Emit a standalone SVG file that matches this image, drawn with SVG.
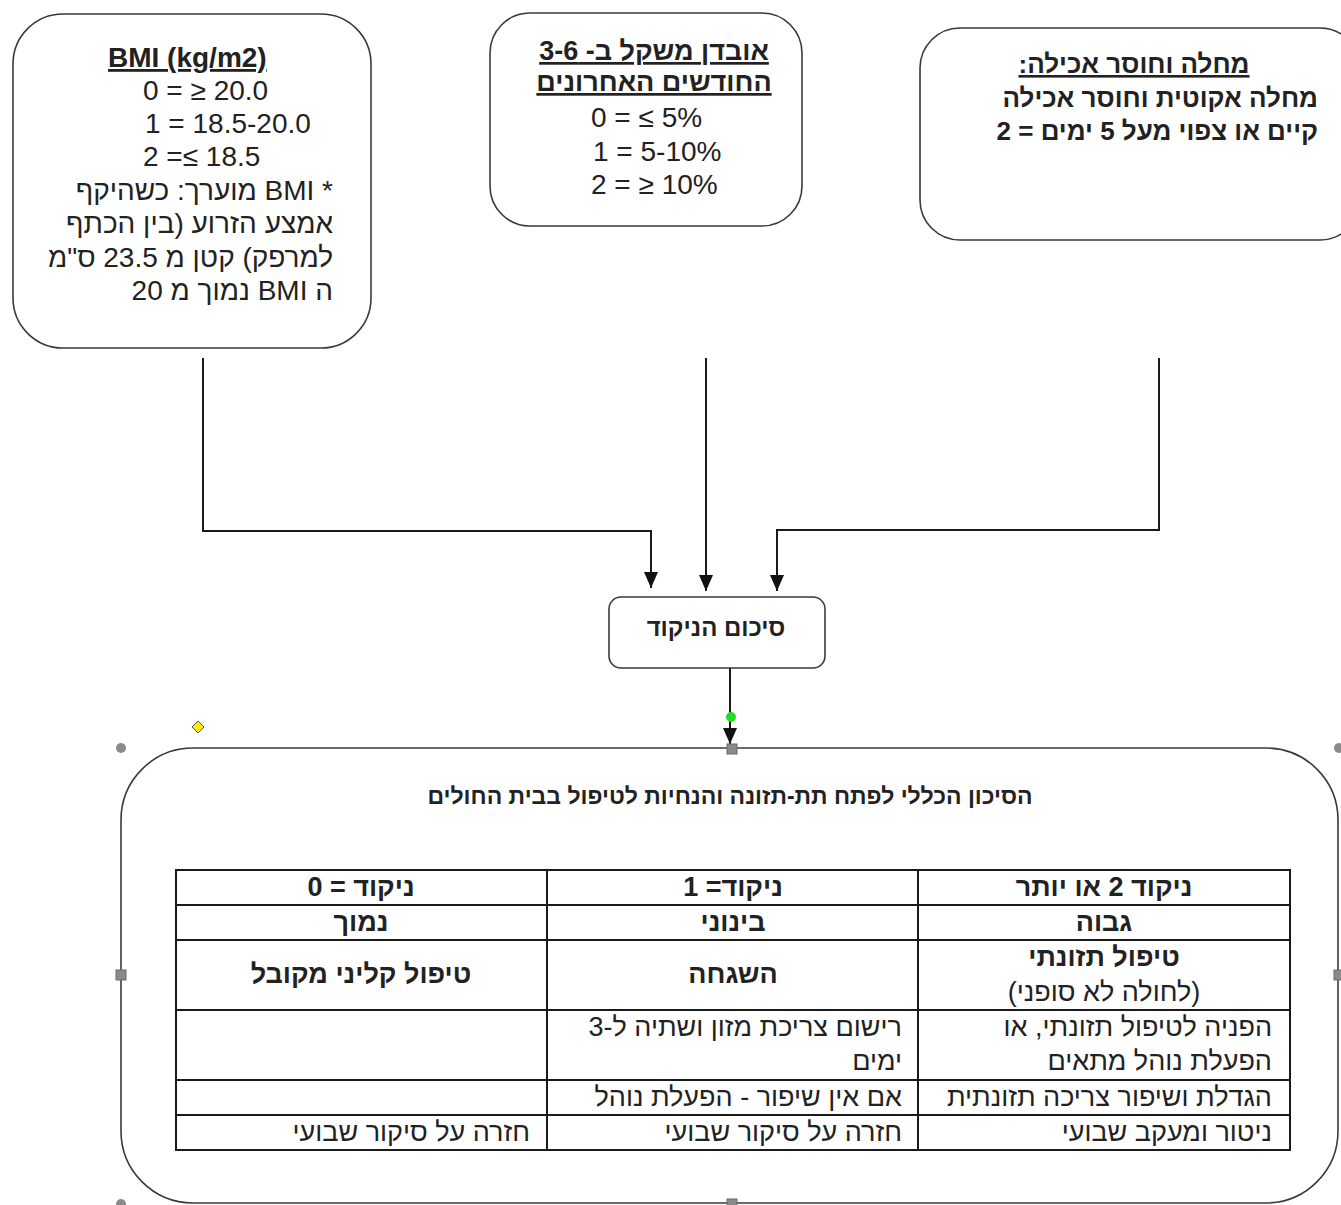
<svg xmlns="http://www.w3.org/2000/svg" width="1341" height="1205" viewBox="0 0 1341 1205">
<style>
  .box { fill: #ffffff; stroke: #3a3a3a; stroke-width: 1.6; }
  .t { font-family: "Liberation Sans", Arial, "DejaVu Sans", sans-serif; fill: #222; }
  .b { font-weight: bold; }
  .u { text-decoration: underline; }
  .rtl { direction: rtl; unicode-bidi: embed; }
  .mid { text-anchor: middle; }
  .f28 { font-size: 28px; }
  .f27 { font-size: 27px; }
  .f26 { font-size: 26px; }
  .f24 { font-size: 24px; }
  .f23 { font-size: 23px; }
  .conn { fill: none; stroke: #1a1a1a; stroke-width: 2; }
  .grid { fill: none; stroke: #1a1a1a; stroke-width: 2; }
  .h-sq { fill: #8a8a8a; stroke: #6a6a6a; stroke-width: 1; }
  .h-ci { fill: #8a8a8a; }
</style>
<defs>
  <marker id="arrow" viewBox="0 0 16 14" refX="16" refY="7" markerWidth="16" markerHeight="14" orient="auto" markerUnits="userSpaceOnUse">
    <path d="M0,0 L16,7 L0,14 Z" fill="#111"/>
  </marker>
</defs>

<g id="node-bmi">
  <rect class="box" x="13" y="14" width="358" height="334" rx="50" ry="50"/>
  <text class="t b u f28" x="108" y="67">BMI (kg/m2)</text>
  <text class="t f28" x="143" y="100">0 = ≥ 20.0</text>
  <text class="t f28" x="145" y="133">1 = 18.5-20.0</text>
  <text class="t f28" x="143" y="166">2 =≤ 18.5</text>
  <text class="t f28 rtl" x="333" y="200" text-anchor="start">* BMI מוערך: כשהיקף</text>
  <text class="t f28 rtl" x="333" y="233" text-anchor="start">אמצע הזרוע (בין הכתף</text>
  <text class="t f28 rtl" x="333" y="267" text-anchor="start">למרפק) קטן מ 23.5 ס"מ</text>
  <text class="t f28 rtl" x="333" y="300" text-anchor="start">ה BMI נמוך מ 20</text>
</g>

<g id="node-weightloss">
  <rect class="box" x="490" y="13" width="312" height="213" rx="40" ry="40"/>
  <text class="t b u f27 rtl mid" x="654" y="60">אובדן משקל ב- 3-6</text>
  <text class="t b u f27 rtl mid" x="654" y="91">החודשים האחרונים</text>
  <text class="t f28" x="591" y="127">0 = ≤ 5%</text>
  <text class="t f28" x="593" y="161">1 = 5-10%</text>
  <text class="t f28" x="591" y="194">2 = ≥ 10%</text>
</g>

<g id="node-illness">
  <rect class="box" x="920" y="28" width="440" height="212" rx="40" ry="40"/>
  <text class="t b u f26 rtl mid" x="1134" y="73">מחלה וחוסר אכילה:</text>
  <text class="t b f26 rtl" x="1318" y="107" text-anchor="start">מחלה אקוטית וחוסר אכילה</text>
  <text class="t b f26 rtl" x="1318" y="140" text-anchor="start">קיים או צפוי מעל 5 ימים = 2</text>
</g>

<g id="node-summary">
  <rect class="box" x="609" y="597" width="216" height="71" rx="12" ry="12"/>
  <text class="t b f24 rtl mid" x="716" y="636">סיכום הניקוד</text>
</g>

<g id="connectors">
  <path class="conn" d="M203,358 V531 H651 V588" marker-end="url(#arrow)"/>
  <path class="conn" d="M706,358 V591" marker-end="url(#arrow)"/>
  <path class="conn" d="M1159,358 V530 H777 V591" marker-end="url(#arrow)"/>
  <path class="conn" d="M730,668 V744" marker-end="url(#arrow)"/>
</g>

<g id="node-risk">
  <rect class="box" x="121" y="748" width="1217" height="455" rx="72" ry="72"/>
  <text class="t b f23 rtl mid" x="730" y="804">הסיכון הכללי לפתח תת-תזונה והנחיות לטיפול בבית החולים</text>
  <g id="table">
    <rect class="grid" x="176" y="870" width="1114" height="280"/>
    <path class="grid" d="M176,905 H1290 M176,940 H1290 M176,1010 H1290 M176,1080 H1290 M176,1115 H1290 M547,870 V1150 M918,870 V1150"/>
    <text class="t b f27 rtl mid" x="1104" y="896">ניקוד 2 או יותר</text>
    <text class="t b f27 rtl mid" x="733" y="896">ניקוד= 1</text>
    <text class="t b f27 rtl mid" x="361" y="896">ניקוד = 0</text>
    <text class="t b f27 rtl mid" x="1104" y="931">גבוה</text>
    <text class="t b f27 rtl mid" x="733" y="931">בינוני</text>
    <text class="t b f27 rtl mid" x="361" y="931">נמוך</text>
    <text class="t b f27 rtl mid" x="1104" y="966">טיפול תזונתי</text>
    <text class="t f27 rtl mid" x="1104" y="1001">(לחולה לא סופני)</text>
    <text class="t b f27 rtl mid" x="733" y="983">השגחה</text>
    <text class="t b f27 rtl mid" x="361" y="983">טיפול קליני מקובל</text>
    <text class="t f27 rtl" x="1272" y="1036" text-anchor="start">הפניה לטיפול תזונתי, או</text>
    <text class="t f27 rtl" x="1272" y="1070" text-anchor="start">הפעלת נוהל מתאים</text>
    <text class="t f27 rtl" x="902" y="1036" text-anchor="start">רישום צריכת מזון ושתיה ל-3</text>
    <text class="t f27 rtl" x="902" y="1070" text-anchor="start">ימים</text>
    <text class="t f27 rtl" x="1272" y="1106" text-anchor="start">הגדלת ושיפור צריכה תזונתית</text>
    <text class="t f27 rtl" x="902" y="1106" text-anchor="start">אם אין שיפור - הפעלת נוהל</text>
    <text class="t f27 rtl" x="1272" y="1141" text-anchor="start">ניטור ומעקב שבועי</text>
    <text class="t f27 rtl" x="902" y="1141" text-anchor="start">חזרה על סיקור שבועי</text>
    <text class="t f27 rtl" x="530" y="1141" text-anchor="start">חזרה על סיקור שבועי</text>
  </g>
</g>

<g id="selection-handles">
  <circle class="h-ci" cx="121" cy="748" r="5"/>
  <circle class="h-ci" cx="1339" cy="748" r="5"/>
  <circle class="h-ci" cx="121" cy="1204" r="5"/>
  <rect class="h-sq" x="727" y="744" width="10" height="10"/>
  <rect class="h-sq" x="116" y="970" width="10" height="10"/>
  <rect class="h-sq" x="1334" y="970" width="10" height="10"/>
  <rect class="h-sq" x="727" y="1199" width="10" height="10"/>
  <polygon points="198,721 204,727 198,733 192,727" fill="#ffee00" stroke="#555" stroke-width="1"/>
  <circle cx="731" cy="717" r="5" fill="#22dd22"/>
</g>
</svg>
